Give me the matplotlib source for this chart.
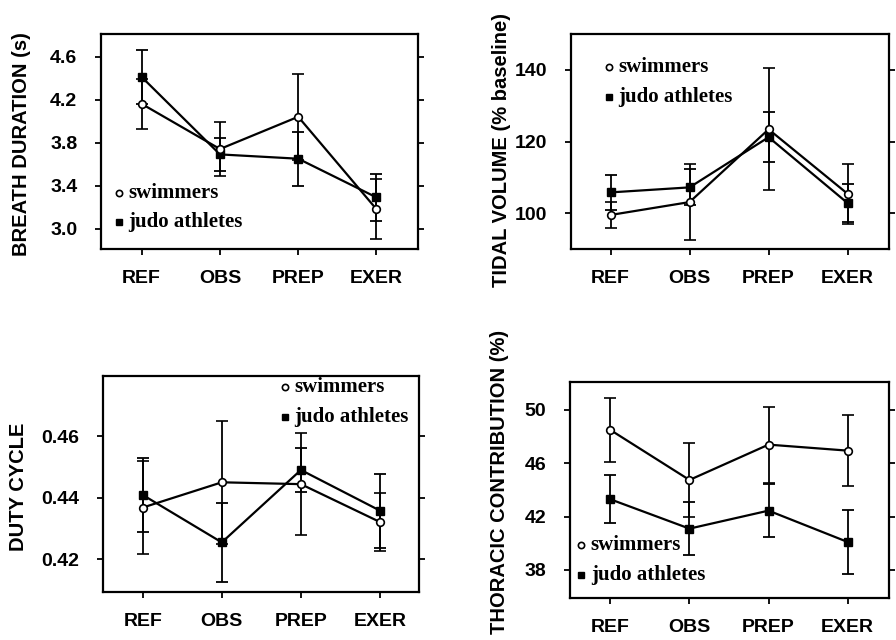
import matplotlib
matplotlib.use("Agg")
import matplotlib.pyplot as plt

stages = ["REF", "OBS", "PREP", "EXER"]

breath_swim = [4.16, 3.74, 4.04, 3.18]
breath_swim_sd = [0.23, 0.25, 0.40, 0.28]
breath_judo = [4.41, 3.69, 3.65, 3.29]
breath_judo_sd = [0.25, 0.15, 0.25, 0.22]

tidal_swim = [99.5, 103.1, 123.4, 105.4]
tidal_swim_sd = [3.5, 10.5, 17.0, 8.3]
tidal_judo = [105.8, 107.2, 121.2, 102.8]
tidal_judo_sd = [4.9, 5.0, 7.0, 5.3]

duty_swim = [0.4368, 0.4450, 0.4444, 0.4321]
duty_swim_sd = [0.015, 0.020, 0.0166, 0.0093]
duty_judo = [0.4409, 0.4255, 0.4490, 0.4358]
duty_judo_sd = [0.012, 0.0127, 0.007, 0.012]

thor_swim = [48.5, 44.75, 47.4, 46.95]
thor_swim_sd = [2.4, 2.8, 2.85, 2.65]
thor_judo = [43.3, 41.1, 42.45, 40.1]
thor_judo_sd = [1.8, 2.0, 2.0, 2.4]

SANS = "Liberation Sans"
SERIF = "Liberation Serif"


def panel(ax, swim, swim_sd, judo, judo_sd, ylim, yticks, ytlabels, ylabel,
          label_xy, key_xy, xlim):
    x = list(range(len(stages)))
    ax.errorbar(x, judo, yerr=judo_sd, color="black", lw=1.6, elinewidth=1.3,
                capsize=4.5, capthick=1.3, marker="s", ms=5.5, mfc="black",
                mec="black", zorder=2)
    ax.errorbar(x, swim, yerr=swim_sd, color="black", lw=1.6, elinewidth=1.3,
                capsize=4.5, capthick=1.3, marker="o", ms=5.5, mfc="white",
                mec="black", mew=1.2, zorder=3)
    ax.set_xlim(*xlim)
    ax.set_ylim(*ylim)
    ax.set_xticks(x)
    ax.set_xticklabels(stages, fontfamily=SANS, fontweight="bold", fontsize=14)
    ax.set_yticks(yticks)
    ax.set_yticklabels(ytlabels, fontfamily=SANS, fontweight="bold", fontsize=14)
    ax.tick_params(axis="x", direction="out", length=4, width=1.3, pad=11)
    ax.tick_params(axis="y", direction="out", length=4, width=1.3, pad=13,
                   right=True)
    for s in ax.spines.values():
        s.set_linewidth(1.6)
    ax.set_ylabel(ylabel, fontfamily=SANS, fontweight="bold", fontsize=14.5)
    ax.yaxis.set_label_coords(*label_xy)

    # legend key
    kx, ky, dy = key_xy
    ax.plot([kx], [ky], transform=ax.transAxes, marker="o", ms=4.5,
            mfc="white", mec="black", mew=1.2, ls="none", clip_on=False)
    ax.plot([kx], [ky - dy], transform=ax.transAxes, marker="s", ms=5,
            color="black", ls="none", clip_on=False)
    ax.text(kx + 0.03, ky, "swimmers", transform=ax.transAxes, ha="left",
            va="center", fontfamily=SERIF, fontweight="bold", fontsize=15)
    ax.text(kx + 0.03, ky - dy, "judo athletes", transform=ax.transAxes,
            ha="left", va="center", fontfamily=SERIF, fontweight="bold",
            fontsize=15)


fig = plt.figure(figsize=(8.96, 6.4), dpi=100)

ax1 = fig.add_axes([0.1127, 0.6109, 0.3538, 0.336])
panel(ax1, breath_swim, breath_swim_sd, breath_judo, breath_judo_sd,
      (2.81, 4.81), [3.0, 3.4, 3.8, 4.2, 4.6], ["3.0", "3.4", "3.8", "4.2", "4.6"],
      "BREATH DURATION (s)", (-0.22, 0.488), (0.057, 0.26, 0.134), (-0.52, 3.53))

ax2 = fig.add_axes([0.6373, 0.6109, 0.3546, 0.336])
panel(ax2, tidal_swim, tidal_swim_sd, tidal_judo, tidal_judo_sd,
      (90, 150), [100, 120, 140], ["100", "120", "140"],
      "TIDAL VOLUME (% baseline)", (-0.19, 0.46), (0.119, 0.847, 0.14),
      (-0.5, 3.52))

ax3 = fig.add_axes([0.1146, 0.0755, 0.3534, 0.337])
panel(ax3, duty_swim, duty_swim_sd, duty_judo, duty_judo_sd,
      (0.4095, 0.4795), [0.42, 0.44, 0.46], ["0.42", "0.44", "0.46"],
      "DUTY CYCLE", (-0.235, 0.487), (0.576, 0.95, 0.139), (-0.506, 3.497))

ax4 = fig.add_axes([0.6362, 0.0661, 0.3557, 0.3375])
panel(ax4, thor_swim, thor_swim_sd, thor_judo, thor_judo_sd,
      (35.92, 52.12), [38, 42, 46, 50], ["38", "42", "46", "50"],
      "THORACIC CONTRIBUTION (%)", (-0.192, 0.537), (0.035, 0.244, 0.139),
      (-0.51, 3.52))

fig.savefig("out.png", dpi=100)
